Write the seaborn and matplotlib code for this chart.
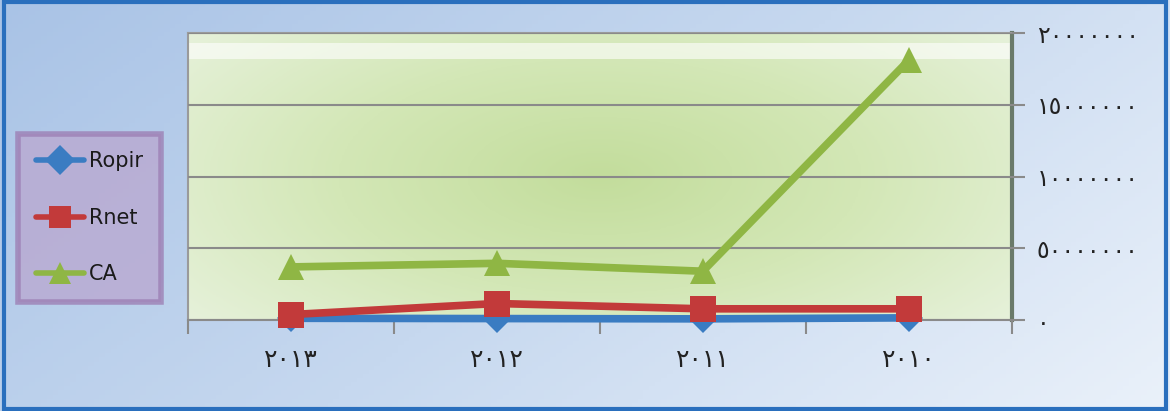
import numpy as np
import pandas as pd
import seaborn as sns
import matplotlib.pyplot as plt
from matplotlib.patches import Rectangle

# data
years = ['٢٠١٣', '٢٠١٢', '٢٠١١', '٢٠١٠']
ropir = [120000, 100000, 80000, 150000]
rnet = [380000, 1150000, 780000, 780000]
ca = [3700000, 3950000, 3400000, 18100000]
yticks = [0, 5000000, 10000000, 15000000, 20000000]
ytick_labels = ['٠', '٥٠٠٠٠٠٠٠', '١٠٠٠٠٠٠٠', '١٥٠٠٠٠٠٠', '٢٠٠٠٠٠٠٠']

df = pd.DataFrame({'year': years * 3,
                   'value': ropir + rnet + ca,
                   'serie': ['Ropir'] * 4 + ['Rnet'] * 4 + ['CA'] * 4})

sns.set_style('white')
plt.rcParams['font.family'] = ['DejaVu Sans']

fig = plt.figure(figsize=(11.7, 4.11), dpi=100)

# fond bleu degrade
bg = fig.add_axes([0, 0, 1, 1], zorder=-10)
gx = np.linspace(0, 1, 200)
gy = np.linspace(0, 1, 100)
X, Y = np.meshgrid(gx, gy)
val = 0.55 * X + 0.25 * (1 - Y)
bg.imshow(val, cmap=sns.blend_palette(['#a9c3e6', '#c6d8ef', '#eaf1fa'], as_cmap=True),
          extent=[0, 1, 0, 1], aspect='auto', origin='lower')
bg.add_patch(Rectangle((0.003, 0.005), 0.994, 0.99, fill=False, ec='#2a6fbd', lw=3,
                       transform=bg.transAxes))
bg.axis('off')

ax = fig.add_axes([0.1607, 0.2214, 0.704, 0.6983])

pal = {'Ropir': '#3a7cc2', 'Rnet': '#c23a3a', 'CA': '#8fb644'}
marks = {'Ropir': 'D', 'Rnet': 's', 'CA': '^'}
sns.lineplot(data=df, x='year', y='value', hue='serie', style='serie',
             palette=pal, markers=marks, dashes=False, linewidth=5.5,
             markersize=19, markeredgewidth=0, sort=False, ax=ax, zorder=5)
for line in ax.get_lines():
    line.set_clip_on(False)
# losange plus petit, cache en partie sous les carres
ax.get_lines()[0].set_markersize(14)

# fond vert du graphique
ax.set_xlim(-0.5, 3.5)
ax.set_ylim(0, 20000000)
cx = np.linspace(-1, 1, 300)
cy = np.linspace(-1, 1, 150)
CX, CY = np.meshgrid(cx, cy)
r = np.sqrt((CX * 0.9) ** 2 + (CY * 0.7) ** 2)
ax.imshow(r, cmap=sns.blend_palette(['#c3dd9c', '#d3e7b6', '#e6f1da'], as_cmap=True),
          extent=[-0.5, 3.5, 0, 20000000], aspect='auto', origin='lower', zorder=0)
ax.axhspan(18200000, 19300000, color='white', alpha=0.6, zorder=1, lw=0)

ax.set_yticks(yticks)
ax.set_yticklabels(ytick_labels, fontsize=17, color='#222222', ha='left')
ax.yaxis.tick_right()
ax.grid(axis='y', color='#8a8a8a', lw=1.5, zorder=2)
ax.set_axisbelow(False)
ax.tick_params(axis='y', length=9, width=1.5, color='#8a8a8a', pad=9, right=True)

ax.set_xticks(range(4))
ax.set_xticklabels(years, fontsize=18, color='#222222')
ax.set_xticks([-0.5, 0.5, 1.5, 2.5, 3.5], minor=True)
ax.tick_params(axis='x', which='major', length=0, pad=20)
ax.tick_params(axis='x', which='minor', length=10, width=1.5, color='#8a8a8a', bottom=True)
ax.set_xlabel('')
ax.set_ylabel('')
for side in ['top', 'left']:
    ax.spines[side].set_color('#9a9a9a')
    ax.spines[side].set_linewidth(1.5)
ax.spines['right'].set_color('#6a7a6a')
ax.spines['right'].set_linewidth(3)
ax.spines['bottom'].set_color('#8a8a8a')
ax.spines['bottom'].set_linewidth(1.5)

leg = ax.legend(loc='center left', bbox_to_anchor=(0.021, 0.47),
                bbox_transform=fig.transFigure, fontsize=15, frameon=True,
                labelspacing=1.75, handlelength=2.3, handletextpad=0.25,
                borderpad=0.55, borderaxespad=0, markerscale=0.8)
leg.get_frame().set_facecolor('#b9a9d1')
leg.get_frame().set_edgecolor('#9d80b5')
leg.get_frame().set_linewidth(4)
leg.get_frame().set_boxstyle('square')
for line in leg.get_lines():
    line.set_linewidth(4)
for t in leg.get_texts():
    t.set_color('#1a1a1a')

fig.savefig('out.png', dpi=100)
